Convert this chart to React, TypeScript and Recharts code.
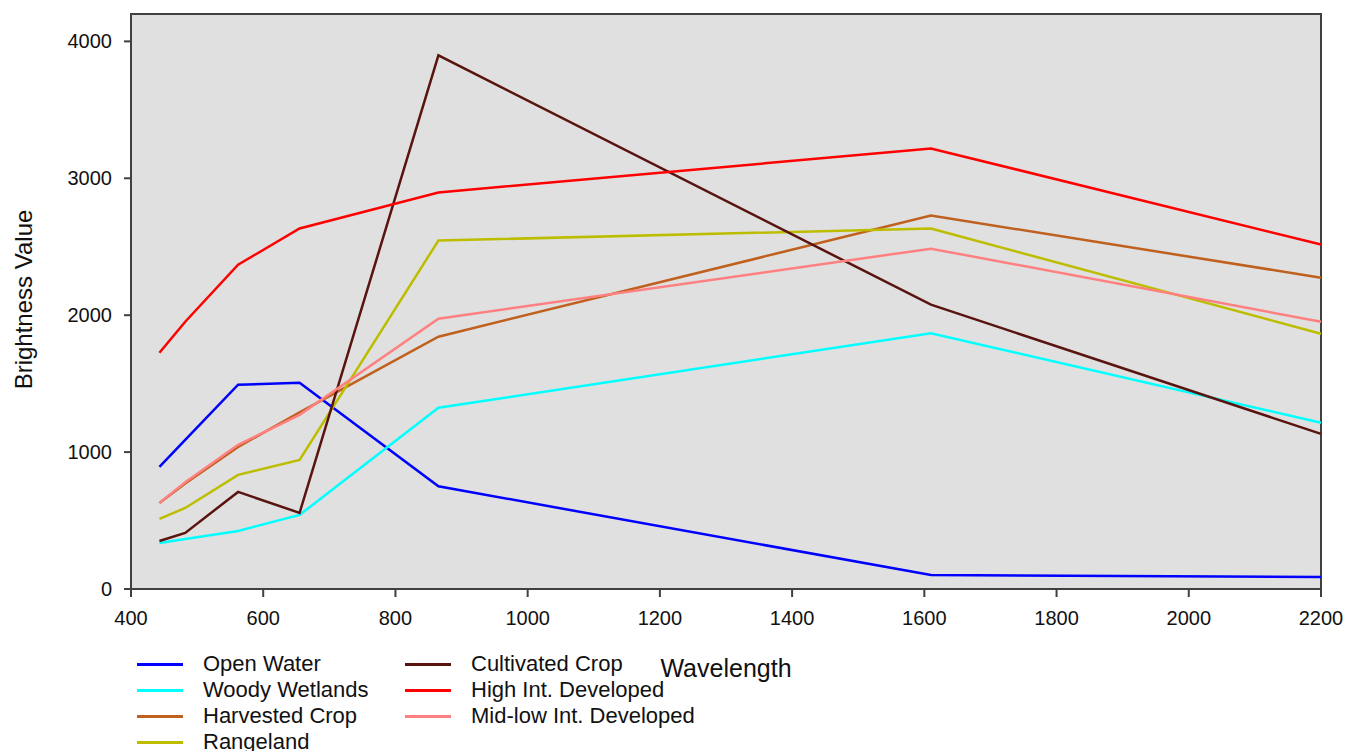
import React from 'react';
import { LineChart, Line, XAxis, YAxis, CartesianGrid, ReferenceArea, Label } from 'recharts';

// band centre wavelengths (nm)
const wavelengths = [443, 482, 562, 655, 865, 1610, 2200];

const openWater = [892, 1090, 1492, 1506, 750, 102, 88];
const woodyWetlands = [336, 365, 424, 541, 1324, 1868, 1214];
const harvestedCrop = [629, 770, 1038, 1290, 1843, 2728, 2274];
const rangeland = [512, 592, 834, 943, 2545, 2633, 1865];
const cultivatedCrop = [351, 410, 709, 556, 3898, 2077, 1133];
const highDeveloped = [1726, 1952, 2369, 2633, 2896, 3218, 2516];
const midLowDeveloped = [629, 780, 1053, 1272, 1974, 2486, 1952];

const xTicks = [400, 600, 800, 1000, 1200, 1400, 1600, 1800, 2000, 2200];
const yTicks = [0, 1000, 2000, 3000, 4000];

const series = [
  { key: 'openWater', name: 'Open Water', values: openWater, color: '#0000FF' },
  { key: 'woodyWetlands', name: 'Woody Wetlands', values: woodyWetlands, color: '#00FFFF' },
  { key: 'harvestedCrop', name: 'Harvested Crop', values: harvestedCrop, color: '#C0601E' },
  { key: 'rangeland', name: 'Rangeland', values: rangeland, color: '#BDBD00' },
  { key: 'cultivatedCrop', name: 'Cultivated Crop', values: cultivatedCrop, color: '#5A1410' },
  { key: 'highDeveloped', name: 'High Int. Developed', values: highDeveloped, color: '#FF0000' },
  { key: 'midLowDeveloped', name: 'Mid-low Int. Developed', values: midLowDeveloped, color: '#FF8080' },
];

const data = wavelengths.map((w, i) => {
  const row: Record<string, number> = { wavelength: w };
  series.forEach((s) => {
    row[s.key] = s.values[i];
  });
  return row;
});

const FONT = '"Liberation Sans", Arial, sans-serif';
const AXIS = '#404040';

const LegendItem = ({ name, color }: { name: string; color: string }) => (
  <div style={{ display: 'flex', alignItems: 'center', height: 26 }}>
    <div style={{ width: 46, height: 3, background: color, marginRight: 20 }} />
    <span style={{ fontSize: 22, color: '#111', lineHeight: '26px', whiteSpace: 'nowrap' }}>{name}</span>
  </div>
);

// legend sits below the plot, two columns
const CustomLegend = () => (
  <div style={{ position: 'absolute', left: 137, top: 651, display: 'flex', fontFamily: FONT }}>
    <div style={{ width: 268 }}>
      {series.slice(0, 4).map((s) => (
        <LegendItem key={s.key} name={s.name} color={s.color} />
      ))}
    </div>
    <div>
      {series.slice(4).map((s) => (
        <LegendItem key={s.key} name={s.name} color={s.color} />
      ))}
    </div>
  </div>
);

const YTitle = (props: any) => {
  const vb = props.viewBox || { x: 0, y: 0, width: 0, height: 0 };
  const cx = vb.x + 23;
  const cy = vb.y + vb.height / 2 - 2;
  return (
    <text
      x={cx}
      y={cy}
      transform={`rotate(-90, ${cx}, ${cy})`}
      textAnchor="middle"
      dominantBaseline="central"
      fontSize={24}
      fontFamily={FONT}
      fill="#111"
    >
      Brightness Value
    </text>
  );
};

export default function App() {
  return (
    <div style={{ position: 'fixed', left: 0, top: 0, width: 1346, height: 751, background: '#fff', overflow: 'hidden' }}>
      <LineChart width={1346} height={751} data={data} margin={{ top: 14, right: 25, bottom: 132, left: 0 }}>
        <CartesianGrid horizontal={false} vertical={false} fill="#E0E0E0" fillOpacity={1} />
        <XAxis
          type="number"
          dataKey="wavelength"
          domain={[400, 2200]}
          ticks={xTicks}
          height={30}
          tickSize={8}
          tickMargin={14}
          stroke={AXIS}
          strokeWidth={2}
          tick={{ fontSize: 20, fontFamily: FONT, fill: '#111' }}
        >
          <Label
            value="Wavelength"
            position="bottom"
            offset={40}
            style={{ fontSize: 25, fontFamily: FONT, fill: '#111' }}
          />
        </XAxis>
        <YAxis
          type="number"
          domain={[0, 4200]}
          ticks={yTicks}
          width={131}
          tickSize={7}
          tickMargin={12}
          stroke={AXIS}
          strokeWidth={2}
          tick={{ fontSize: 20, fontFamily: FONT, fill: '#111' }}
        >
          <Label content={<YTitle />} />
        </YAxis>
        {series.map((s) => (
          <Line
            key={s.key}
            type="linear"
            dataKey={s.key}
            name={s.name}
            stroke={s.color}
            strokeWidth={2.5}
            dot={false}
            activeDot={false}
            isAnimationActive={false}
          />
        ))}
        <ReferenceArea x1={400} x2={2200} y1={0} y2={4200} fill="none" stroke={AXIS} strokeWidth={2} />
      </LineChart>
      <CustomLegend />
    </div>
  );
}
